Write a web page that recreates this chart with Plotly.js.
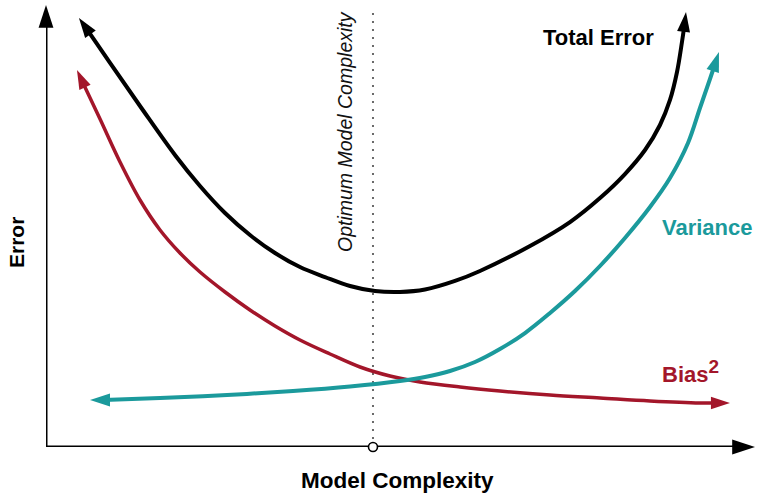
<!DOCTYPE html>
<html>
<head>
<meta charset="utf-8">
<script src="https://cdn.plot.ly/plotly-3.0.1.min.js"></script>
<style>html,body{margin:0;padding:0;background:#fff}</style>
</head>
<body>
<div id="chart" style="width:760px;height:500px"></div>
<script>
// ---- Data (model complexity on x, error on y; arbitrary units 0..10) ----
const totalX = [0.465, 0.564, 0.903, 1.326, 1.819, 2.172, 2.525, 2.877, 3.230, 3.582, 3.935, 4.288, 4.640, 4.993, 5.346, 5.769, 6.121, 6.827, 7.391, 7.814, 8.166, 8.449, 8.660, 8.801, 8.900, 8.970, 8.999, 9.027];
const totalY = [9.706, 9.480, 8.688, 7.715, 6.606, 5.905, 5.294, 4.796, 4.389, 4.072, 3.846, 3.643, 3.529, 3.507, 3.563, 3.756, 3.982, 4.548, 5.090, 5.633, 6.176, 6.719, 7.285, 7.851, 8.484, 9.163, 9.480, 9.842];

const biasX = [0.437, 0.522, 0.762, 1.044, 1.326, 1.608, 1.890, 2.172, 2.525, 2.877, 3.230, 3.582, 4.006, 4.429, 4.852, 5.275, 5.839, 6.403, 7.109, 7.814, 8.519, 9.224, 9.450, 9.647];
const biasY = [8.529, 8.235, 7.421, 6.448, 5.588, 4.910, 4.389, 3.959, 3.507, 3.100, 2.738, 2.421, 2.104, 1.810, 1.606, 1.471, 1.357, 1.267, 1.176, 1.109, 1.041, 0.995, 0.995, 0.995];

const varX = [0.621, 0.818, 1.608, 2.553, 3.484, 4.288, 4.993, 5.346, 5.698, 6.051, 6.403, 6.756, 7.109, 7.461, 7.814, 8.166, 8.519, 8.801, 9.055, 9.224, 9.365, 9.422, 9.492];
const varY = [1.063, 1.063, 1.109, 1.176, 1.267, 1.369, 1.493, 1.584, 1.719, 1.923, 2.217, 2.579, 3.032, 3.529, 4.095, 4.729, 5.430, 6.086, 6.878, 7.670, 8.326, 8.597, 8.937];

const optimumX = 4.612;
const optimumTop = 9.93;

const xAxisX = [0, 9.83, 10];
const xAxisY = [0, 0, 0];
const yAxisX = [0, 0, 0];
const yAxisY = [0, 9.75, 10];

const labels = {
  total: 'Total Error',
  variance: 'Variance',
  bias: 'Bias',
  biasPower: '2',
  optimum: 'Optimum Model Complexity',
  xTitle: 'Model Complexity',
  yTitle: 'Error'
};

// ---- Styles ----
const FONT = 'Liberation Sans, Arial, Helvetica, sans-serif';
const BLACK = '#000000';
const RED = '#a3162a';
const TEAL = '#1b9a9c';

function bodyTrace(xs, ys, startCut, endCut, color, width, shape) {
  return {
    x: xs.slice(startCut ? 1 : 0, endCut ? -1 : xs.length),
    y: ys.slice(startCut ? 1 : 0, endCut ? -1 : ys.length),
    mode: 'lines', type: 'scatter', hoverinfo: 'skip', cliponaxis: false,
    line: {color: color, width: width, shape: shape || 'linear', smoothing: 1, simplify: false}
  };
}
function headTrace(xs, ys, iNear, iTip, color, size) {
  return {
    x: [xs[iNear], xs[iTip]], y: [ys[iNear], ys[iTip]],
    mode: 'markers', type: 'scatter', hoverinfo: 'skip', cliponaxis: false,
    marker: {symbol: 'arrow', angleref: 'previous', size: [0, size], opacity: 1,
             color: color, line: {width: 0}}
  };
}

const nT = totalX.length, nB = biasX.length, nV = varX.length;
const data = [
  {x: [optimumX, optimumX], y: [0, optimumTop], mode: 'lines', type: 'scatter', hoverinfo: 'skip', cliponaxis: false,
   line: {color: '#6a6a6a', width: 2, dash: '2px,6px'}},
  bodyTrace(xAxisX, xAxisY, false, true, BLACK, 3),
  headTrace(xAxisX, xAxisY, 1, 2, BLACK, 24),
  bodyTrace(yAxisX, yAxisY, false, true, BLACK, 3),
  headTrace(yAxisX, yAxisY, 1, 2, BLACK, 24),
  bodyTrace(totalX, totalY, true, true, BLACK, 4, 'spline'),
  headTrace(totalX, totalY, 1, 0, BLACK, 21),
  headTrace(totalX, totalY, nT - 2, nT - 1, BLACK, 21),
  bodyTrace(biasX, biasY, true, true, RED, 3.5, 'spline'),
  headTrace(biasX, biasY, 1, 0, RED, 20),
  headTrace(biasX, biasY, nB - 2, nB - 1, RED, 20),
  bodyTrace(varX, varY, true, true, TEAL, 4, 'spline'),
  headTrace(varX, varY, 1, 0, TEAL, 21),
  headTrace(varX, varY, nV - 2, nV - 1, TEAL, 21),
  {x: [optimumX], y: [0], mode: 'markers', type: 'scatter', hoverinfo: 'skip', cliponaxis: false,
   marker: {symbol: 'circle', size: 9, opacity: 1, color: '#ffffff', line: {color: BLACK, width: 1.6}}}
];

const hidden = {range: [0, 10], showgrid: false, zeroline: false, showline: false,
  showticklabels: false, ticks: '', fixedrange: true};

const layout = {
  width: 760, height: 500,
  margin: {l: 46, r: 5, t: 5, b: 53},
  paper_bgcolor: '#ffffff', plot_bgcolor: '#ffffff',
  showlegend: false,
  xaxis: Object.assign({}, hidden),
  yaxis: Object.assign({}, hidden),
  annotations: [
    {text: '<b>' + labels.total + '</b>', x: 7.786, y: 9.276, xref: 'x', yref: 'y', showarrow: false,
     xanchor: 'center', yanchor: 'middle', font: {family: FONT, size: 22, color: BLACK}},
    {text: '<b>' + labels.variance + '</b>', x: 8.66, y: 4.977, xref: 'x', yref: 'y', showarrow: false,
     xanchor: 'left', yanchor: 'middle', font: {family: FONT, size: 22, color: TEAL}},
    {text: '<b>' + labels.bias + '<sup><span style="font-size:19px">' + labels.biasPower + '</span></sup></b>',
     x: 8.66, y: 1.71, xref: 'x', yref: 'y', showarrow: false,
     xanchor: 'left', yanchor: 'middle', font: {family: FONT, size: 22, color: RED}},
    {text: '<i>' + labels.optimum + '</i>', x: 4.217, y: 7.149, xref: 'x', yref: 'y', showarrow: false,
     textangle: -90, xanchor: 'center', yanchor: 'middle', font: {family: FONT, size: 19.5, color: '#111111'}},
    {text: '<b>' + labels.yTitle + '</b>', x: -0.0423, y: 0.4615, xref: 'paper', yref: 'paper', showarrow: false,
     textangle: -90, xanchor: 'center', yanchor: 'middle', font: {family: FONT, size: 21, color: BLACK}},
    {text: '<b>' + labels.xTitle + '</b>', x: 0.4951, y: -0.0747, xref: 'paper', yref: 'paper', showarrow: false,
     xanchor: 'center', yanchor: 'middle', font: {family: FONT, size: 22.5, color: BLACK}}
  ]
};

Plotly.newPlot('chart', data, layout, {displayModeBar: false, staticPlot: true});
</script>
</body>
</html>
